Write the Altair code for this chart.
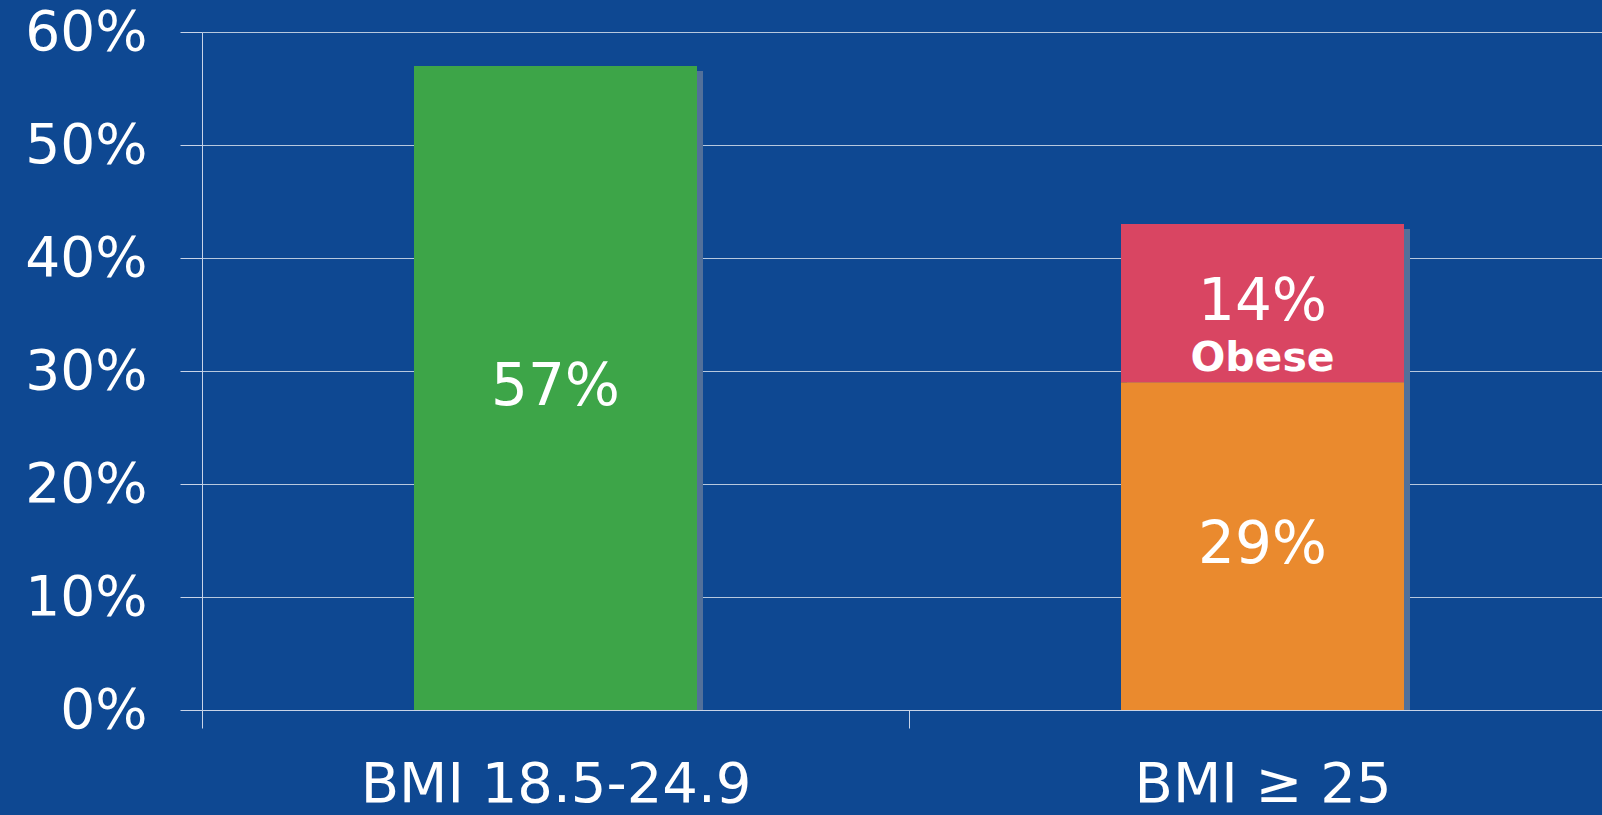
import altair as alt
import pandas as pd

categories = ["BMI 18.5-24.9", "BMI \u2265 25", "BMI \u2265 25"]
segments = ["Normal", "Overweight", "Obese"]
starts = [0.0, 0.0, 0.29]
ends = [0.57, 0.29, 0.43]
seg_colors = ["#3da548", "#ea8a2e", "#d94562"]

label_cats = ["BMI 18.5-24.9", "BMI \u2265 25", "BMI \u2265 25"]
label_y = [0.285, 0.145, 0.36]
label_text = ["57%", "29%", "14%"]

sub_cats = ["BMI \u2265 25"]
sub_y = [0.311]
sub_text = ["Obese"]

cat_order = ["BMI 18.5-24.9", "BMI \u2265 25"]
totals = [0.57, 0.43]

FONT = "DejaVu Sans"

bars = pd.DataFrame({"cat": categories, "seg": segments, "start": starts, "end": ends})
tot = pd.DataFrame({"cat": cat_order, "total": totals, "zero": [0.0, 0.0]})
labels = pd.DataFrame({"cat": label_cats, "y": label_y, "text": label_text})
subs = pd.DataFrame({"cat": sub_cats, "y": sub_y, "text": sub_text})

x = alt.X("cat:N", sort=cat_order, title=None,
          scale=alt.Scale(range=[0, 1414], paddingInner=0, paddingOuter=0),
          axis=alt.Axis(labelAngle=0, labelFont=FONT, labelFontSize=56, labelColor="white",
                        labelBaseline="alphabetic", labelPadding=73, tickSize=18, labelLimit=0,
                        tickBand="extent", tickColor="#c8d4e8", domainColor="#c8d4e8",
                        labelFontWeight="normal", grid=False))
y_scale = alt.Scale(domain=[0, 0.6])
y_axis = alt.Axis(format=".0%", values=[0, 0.1, 0.2, 0.3, 0.4, 0.5, 0.6],
                  labelFont=FONT, labelFontSize=55, labelColor="white", labelPadding=33,
                  tickSize=22, tickColor="#c8d4e8", domainColor="#c8d4e8", labelLimit=0,
                  gridColor="#ffffff", gridOpacity=0.7, gridWidth=1, title=None)

shadow = alt.Chart(tot).mark_bar(size=283, color="#52709a", xOffset=6, yOffset=5, y2Offset=0).encode(
    x=x,
    y=alt.Y("total:Q", scale=y_scale, axis=y_axis),
    y2="zero:Q",
)

main = alt.Chart(bars).mark_bar(size=283).encode(
    x=x,
    y=alt.Y("end:Q", scale=y_scale, axis=y_axis),
    y2="start:Q",
    color=alt.Color("seg:N", scale=alt.Scale(domain=segments, range=seg_colors), legend=None),
)

txt = alt.Chart(labels).mark_text(font=FONT, fontSize=58, color="white", baseline="middle").encode(
    x=x, y=alt.Y("y:Q", scale=y_scale), text="text:N")

sub = alt.Chart(subs).mark_text(font=FONT, fontSize=41, fontWeight="bold", color="white", baseline="middle").encode(
    x=x, y=alt.Y("y:Q", scale=y_scale), text="text:N")

chart = alt.layer(shadow, main, txt, sub).properties(
    width=1400, height=678,
    autosize=alt.AutoSizeParams(type="none"),
    padding={"left": 202, "top": 32, "right": 0, "bottom": 105},
    background="#0e4892",
).configure_view(stroke=None)

chart.save("out.html", embed_options={"renderer": "svg", "actions": False})
